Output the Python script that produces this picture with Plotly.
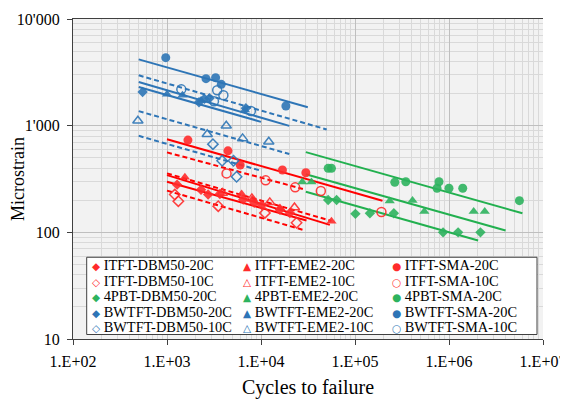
import plotly.graph_objects as go

# ---------------- data ----------------
RED, GREEN, BLUE = "#FF2B2B", "#2DB35E", "#2E75B6"
LRED, LGREEN, LBLUE = "#FF0000", "#22B04F", "#2E75B6"

itft_dbm50_20_n = [1280, 2300, 2740, 3650, 6470, 8480, 10200, 15900, 20300]
itft_dbm50_20_e = [280, 251, 226, 229, 203, 189, 180, 163, 152]
itft_dbm50_10_n = [1210, 1320, 3510, 11000, 23900]
itft_dbm50_10_e = [226, 196, 176, 152, 123]
itft_eme2_20_n = [1550, 6220, 8060, 15900, 56200]
itft_eme2_20_e = [328, 229, 203, 169, 127]
itft_eme2_10_n = [3880, 8000, 12400, 22700]
itft_eme2_10_e = [234, 208, 191, 171]
itft_sma_20_n = [1670, 4450, 6010, 16900, 30000]
itft_sma_20_e = [732, 581, 427, 384, 362]
itft_sma_10_n = [4300, 11200, 23100, 43300, 191000]
itft_sma_10_e = [357, 307, 264, 244, 155]

pbt_dbm50_20_n = [51800, 63700, 101000, 144000, 259000, 865000, 1250000, 2160000]
pbt_dbm50_20_e = [201, 201, 149, 151, 151, 100, 100, 100]
pbt_eme2_20_n = [27500, 34400, 234000, 409000, 546000, 1830000, 2400000]
pbt_eme2_20_e = [296, 296, 197, 199, 157, 157, 157]
pbt_sma_20_n = [51800, 56200, 265000, 347000, 783000, 746000, 1000000, 1400000, 5610000]
pbt_sma_20_e = [398, 398, 295, 298, 298, 259, 259, 259, 198]

bw_dbm50_20_n = [550, 2190, 2500, 2830, 6900]
bw_dbm50_20_e = [2070, 1660, 1790, 1810, 1460]
bw_dbm50_10_n = [3080, 3860, 5100, 5500]
bw_dbm50_10_e = [671, 469, 469, 332]
bw_eme2_20_n = [1000, 1460, 2300, 6750]
bw_eme2_20_e = [1970, 1930, 1720, 1400]
bw_eme2_10_n = [490, 2680, 4270, 6370, 12100]
bw_eme2_10_e = [1110, 830, 1000, 760, 706]
bw_sma_20_n = [970, 2600, 3290, 3780, 18400]
bw_sma_20_e = [4340, 2760, 2820, 2440, 1530]
bw_sma_10_n = [1420, 3420, 3980, 3160, 7800]
bw_sma_10_e = [2190, 2150, 1930, 1690, 1370]

# trendlines: (N start, N end), (strain start, strain end)
trend_n = {
    "ITFT-DBM50-20C": [1000, 30500], "ITFT-DBM50-10C": [1000, 28000],
    "ITFT-EME2-20C": [1000, 54000], "ITFT-EME2-10C": [1000, 56000],
    "ITFT-SMA-20C": [1000, 196000], "ITFT-SMA-10C": [1000, 27900],
    "4PBT-DBM50-20C": [30000, 2040000], "4PBT-EME2-20C": [30000, 4000000],
    "4PBT-SMA-20C": [30000, 6040000],
    "BWTFT-DBM50-20C": [500, 10000], "BWTFT-DBM50-10C": [500, 10000],
    "BWTFT-EME2-20C": [500, 20000], "BWTFT-EME2-10C": [500, 20000],
    "BWTFT-SMA-20C": [500, 31500], "BWTFT-SMA-10C": [500, 50000],
}
trend_e = {
    "ITFT-DBM50-20C": [298, 129], "ITFT-DBM50-10C": [246, 105.5],
    "ITFT-EME2-20C": [344, 117.5], "ITFT-EME2-10C": [357, 128],
    "ITFT-SMA-20C": [746, 198], "ITFT-SMA-10C": [562, 255],
    "4PBT-DBM50-20C": [240, 83.8], "4PBT-EME2-20C": [350, 104],
    "4PBT-SMA-20C": [565, 151],
    "BWTFT-DBM50-20C": [2305, 1086], "BWTFT-DBM50-10C": [803, 378],
    "BWTFT-EME2-20C": [2566, 995], "BWTFT-EME2-10C": [1368, 542],
    "BWTFT-SMA-20C": [4180, 1490], "BWTFT-SMA-10C": [2965, 921],
}

x_tickvals = [1e2, 1e3, 1e4, 1e5, 1e6, 1e7]
x_ticktext = ["1.E+02", "1.E+03", "1.E+04", "1.E+05", "1.E+06", "1.E+07"]
y_tickvals = [10, 100, 1000, 10000]
y_ticktext = ["10", "100", "1'000", "10'000"]

# series: name, N, strain, marker colour, line colour, symbol, dashed trendline?
series = [
    ("ITFT-DBM50-20C", itft_dbm50_20_n, itft_dbm50_20_e, RED, LRED, "diamond", False),
    ("ITFT-EME2-20C", itft_eme2_20_n, itft_eme2_20_e, RED, LRED, "triangle-up", False),
    ("ITFT-SMA-20C", itft_sma_20_n, itft_sma_20_e, RED, LRED, "circle", False),
    ("ITFT-DBM50-10C", itft_dbm50_10_n, itft_dbm50_10_e, RED, LRED, "diamond-open", True),
    ("ITFT-EME2-10C", itft_eme2_10_n, itft_eme2_10_e, RED, LRED, "triangle-up-open", True),
    ("ITFT-SMA-10C", itft_sma_10_n, itft_sma_10_e, RED, LRED, "circle-open", True),
    ("4PBT-DBM50-20C", pbt_dbm50_20_n, pbt_dbm50_20_e, GREEN, LGREEN, "diamond", False),
    ("4PBT-EME2-20C", pbt_eme2_20_n, pbt_eme2_20_e, GREEN, LGREEN, "triangle-up", False),
    ("4PBT-SMA-20C", pbt_sma_20_n, pbt_sma_20_e, GREEN, LGREEN, "circle", False),
    ("BWTFT-DBM50-20C", bw_dbm50_20_n, bw_dbm50_20_e, BLUE, LBLUE, "diamond", False),
    ("BWTFT-EME2-20C", bw_eme2_20_n, bw_eme2_20_e, BLUE, LBLUE, "triangle-up", False),
    ("BWTFT-SMA-20C", bw_sma_20_n, bw_sma_20_e, BLUE, LBLUE, "circle", False),
    ("BWTFT-DBM50-10C", bw_dbm50_10_n, bw_dbm50_10_e, BLUE, LBLUE, "diamond-open", True),
    ("BWTFT-EME2-10C", bw_eme2_10_n, bw_eme2_10_e, BLUE, LBLUE, "triangle-up-open", True),
    ("BWTFT-SMA-10C", bw_sma_10_n, bw_sma_10_e, BLUE, LBLUE, "circle-open", True),
]
glyphs = {"diamond": "◆", "diamond-open": "◇", "triangle-up": "▲",
          "triangle-up-open": "△", "circle": "●", "circle-open": "○"}

fig = go.Figure()

# trendlines first (below markers)
for name, n, e, col, lcol, sym, dashed in series:
    fig.add_trace(go.Scatter(
        x=trend_n[name], y=trend_e[name], mode="lines",
        line=dict(color=lcol, width=2, dash="5px,3px" if dashed else "solid"),
        showlegend=False, hoverinfo="skip"))

for name, n, e, col, lcol, sym, dashed in series:
    size = 9 if "circle" in sym else (9 if "triangle" in sym else 8)
    fig.add_trace(go.Scatter(
        x=n, y=e, mode="markers", name=name,
        marker=dict(symbol=sym, size=size, color=col, opacity=0.9,
                    line=dict(color=col, width=1.5 if "open" in sym else 0)),
        showlegend=False))

# The page body has an 8px default margin, so the figure is drawn 8px smaller
# and all page positions below are expressed relative to the page.
OFF = 8
W, H = 568 - OFF, 399 - OFF
L, R, T, B = 73 - OFF, 25, 18.5 - OFF, 59.5
pw, ph = W - L - R, H - T - B

def page_to_paper(x, y):
    return (x - OFF - L) / pw, (H - B - (y - OFF)) / ph

# -------- legend: boxed block of entries (3 columns x 5 rows) --------
bx0, by0 = page_to_paper(86.7, 335.0)
bx1, by1 = page_to_paper(537, 257.5)
fig.add_shape(type="rect", xref="paper", yref="paper", x0=bx0, y0=by0, x1=bx1, y1=by1,
              fillcolor="white", line=dict(color="#404040", width=1), layer="above")

col_x = [90.0, 240.5, 390.0]
annotations = []
for k, (name, n, e, col, lcol, sym, dashed) in enumerate(series):
    i, j = divmod(k, 3)
    yc = 265.5 + 15.5 * i
    ax, ay = page_to_paper(col_x[j], yc)
    txt = (f'<span style="font-family:DejaVu Sans;font-size:10.5px;color:{col}">'
           f'{glyphs[sym]}</span> {name}')
    annotations.append(dict(x=ax, y=ay, xref="paper", yref="paper", text=txt,
                            showarrow=False, xanchor="left", yanchor="middle",
                            font=dict(family="Liberation Serif", size=14.4, color="black")))

fig.update_layout(
    width=W, height=H,
    margin=dict(l=L, r=R, t=T, b=B, pad=0),
    paper_bgcolor="white", plot_bgcolor="#F2F2F2",
    font=dict(family="Liberation Serif", color="black"),
    showlegend=False,
    annotations=annotations,
)
fig.update_xaxes(
    type="log", range=[2, 7], automargin=False,
    tickvals=x_tickvals, ticktext=x_ticktext,
    tickfont=dict(size=16, family="Liberation Serif"),
    title=dict(text="Cycles to failure", font=dict(size=20, family="Liberation Serif"), standoff=12),
    showline=True, linecolor="#404040", linewidth=1.3, mirror=True,
    ticks="outside", ticklen=5, tickcolor="#404040", ticklabelstandoff=3,
    showgrid=True, gridcolor="#BFBFBF", gridwidth=1,
    minor=dict(dtick="D1", showgrid=True, gridcolor="#D9D9D9", gridwidth=1, ticks=""),
    zeroline=False,
)
fig.update_yaxes(
    type="log", range=[1, 4], automargin=False,
    tickvals=y_tickvals, ticktext=y_ticktext,
    tickfont=dict(size=16, family="Liberation Serif"),
    title=dict(text="Microstrain", font=dict(size=18, family="Liberation Serif"), standoff=0),
    showline=True, linecolor="#404040", linewidth=1.3,
    ticks="outside", ticklen=5, tickcolor="#404040", ticklabelstandoff=4,
    showgrid=True, gridcolor="#BFBFBF", gridwidth=1,
    minor=dict(dtick="D1", showgrid=True, gridcolor="#D9D9D9", gridwidth=1, ticks=""),
    zeroline=False,
)

fig.write_html("out.html")
